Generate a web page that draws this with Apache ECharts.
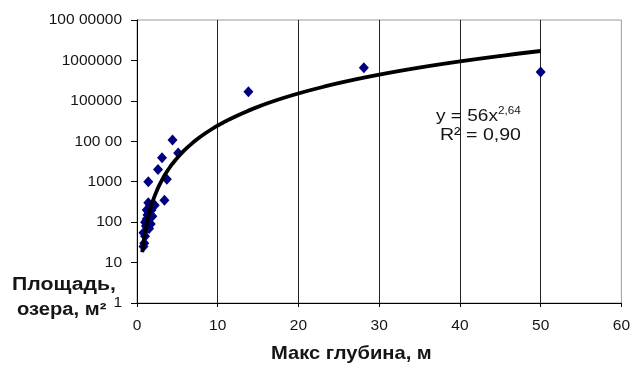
<!DOCTYPE html>
<html>
<head>
<meta charset="utf-8">
<script src="https://cdn.jsdelivr.net/npm/echarts@6/dist/echarts.min.js"></script>
<style>
  html, body { margin: 0; padding: 0; background: #fff; }
  #chart { width: 633px; height: 365px; }
</style>
</head>
<body>
<div id="chart"></div>
<script>
// Lake observations: maximum depth (m) and lake area (m²)
const depths = [0.8, 0.9, 0.8, 1.0, 1.1, 1.2, 1.3, 1.0, 1.5, 1.6, 1.4, 1.8, 2.0, 1.7, 1.5, 2.2, 1.9, 1.2,
                1.4, 2.6, 3.1, 3.7, 3.4, 4.4, 5.1, 13.8, 28.1, 50.0];
const areas  = [25, 30, 55, 45, 80, 120, 150, 100, 180, 250, 300, 200, 280, 90, 70, 260, 140, 200,
                1000, 2000, 3900, 1150, 350, 10700, 5100, 167000, 656000, 520000];

// Power-law trend y = a·x^b as given in the equation label
const trendCoef = 56;
const trendExp = 2.64;
const trendStartX = 0.65;
const trendEndX = 50;

// Axis tick labels
const xTicks = [0, 10, 20, 30, 40, 50, 60];
const yTickLabels = ['1', '10', '100', '1000', '100 00', '100000', '1000000', '100 00000'];

const points = depths.map((d, i) => [d, areas[i]]);

const trend = [];
for (let i = 0; i <= 200; i++) {
  const x = trendStartX * Math.pow(trendEndX / trendStartX, i / 200);
  trend.push([x, trendCoef * Math.pow(x, trendExp)]);
}

const chart = echarts.init(document.getElementById('chart'), null, { renderer: 'canvas' });
const font = '"Liberation Sans", Arial, sans-serif';
const ink = '#151515';

chart.setOption({
  animation: false,
  backgroundColor: '#fff',
  grid: {
    left: 137, right: 11, top: 20, bottom: 62,
    show: true, borderColor: '#9a9a9a', borderWidth: 1, backgroundColor: 'transparent'
  },
  xAxis: {
    type: 'value',
    min: xTicks[0], max: xTicks[xTicks.length - 1], interval: 10,
    axisLine: { lineStyle: { color: '#000', width: 1 } },
    axisTick: { show: true, length: 4, lineStyle: { color: '#000' } },
    axisLabel: {
      margin: 15, fontFamily: font, fontSize: 15.5, color: ink,
      formatter: v => String(v)
    },
    splitLine: { show: true, showMinLine: false, showMaxLine: false, lineStyle: { color: '#222', width: 1 } }
  },
  yAxis: {
    type: 'log', logBase: 10, min: 1, max: 1e7,
    axisLine: { show: true, lineStyle: { color: '#000', width: 1 } },
    axisTick: { show: true, length: 6, lineStyle: { color: '#000' } },
    axisLabel: {
      margin: 15, fontFamily: font, fontSize: 15.5, color: ink,
      formatter: v => yTickLabels[Math.round(Math.log10(v))]
    },
    splitLine: { show: false },
    minorTick: { show: false }
  },
  series: [
    {
      type: 'line',
      data: trend,
      showSymbol: false,
      symbol: 'none',
      lineStyle: { color: '#000', width: 3.8 },
      z: 3
    },
    {
      type: 'scatter',
      data: points,
      symbol: 'diamond',
      symbolSize: [10, 11],
      itemStyle: { color: '#000080', opacity: 1 },
      z: 2
    }
  ],
  graphic: [
    {
      type: 'text', x: 436, y: 106, scaleX: 1.12,
      style: {
        text: '{a|y = 56x}{s|2,64}',
        verticalAlign: 'top',
        rich: {
          a: { fontFamily: font, fontSize: 17, fill: ink, verticalAlign: 'bottom' },
          s: { fontFamily: font, fontSize: 10.5, fill: ink, verticalAlign: 'top', padding: [0, 0, 8, 0] }
        }
      }
    },
    {
      type: 'text', x: 440, y: 127, scaleX: 1.15,
      style: { text: 'R² = 0,90', fontFamily: font, fontSize: 17, fill: ink, verticalAlign: 'top' }
    },
    {
      type: 'text', x: 12, y: 276, scaleX: 1.18,
      style: { text: 'Площадь,', fontFamily: font, fontSize: 18, fontWeight: 'bold', fill: ink, verticalAlign: 'top' }
    },
    {
      type: 'text', x: 17, y: 301, scaleX: 1.12,
      style: { text: 'озера, м²', fontFamily: font, fontSize: 18, fontWeight: 'bold', fill: ink, verticalAlign: 'top' }
    },
    {
      type: 'text', x: 271, y: 344, scaleX: 1.06,
      style: { text: 'Макс глубина, м', fontFamily: font, fontSize: 19, fontWeight: 'bold', fill: ink, verticalAlign: 'top' }
    }
  ]
});
</script>
</body>
</html>
